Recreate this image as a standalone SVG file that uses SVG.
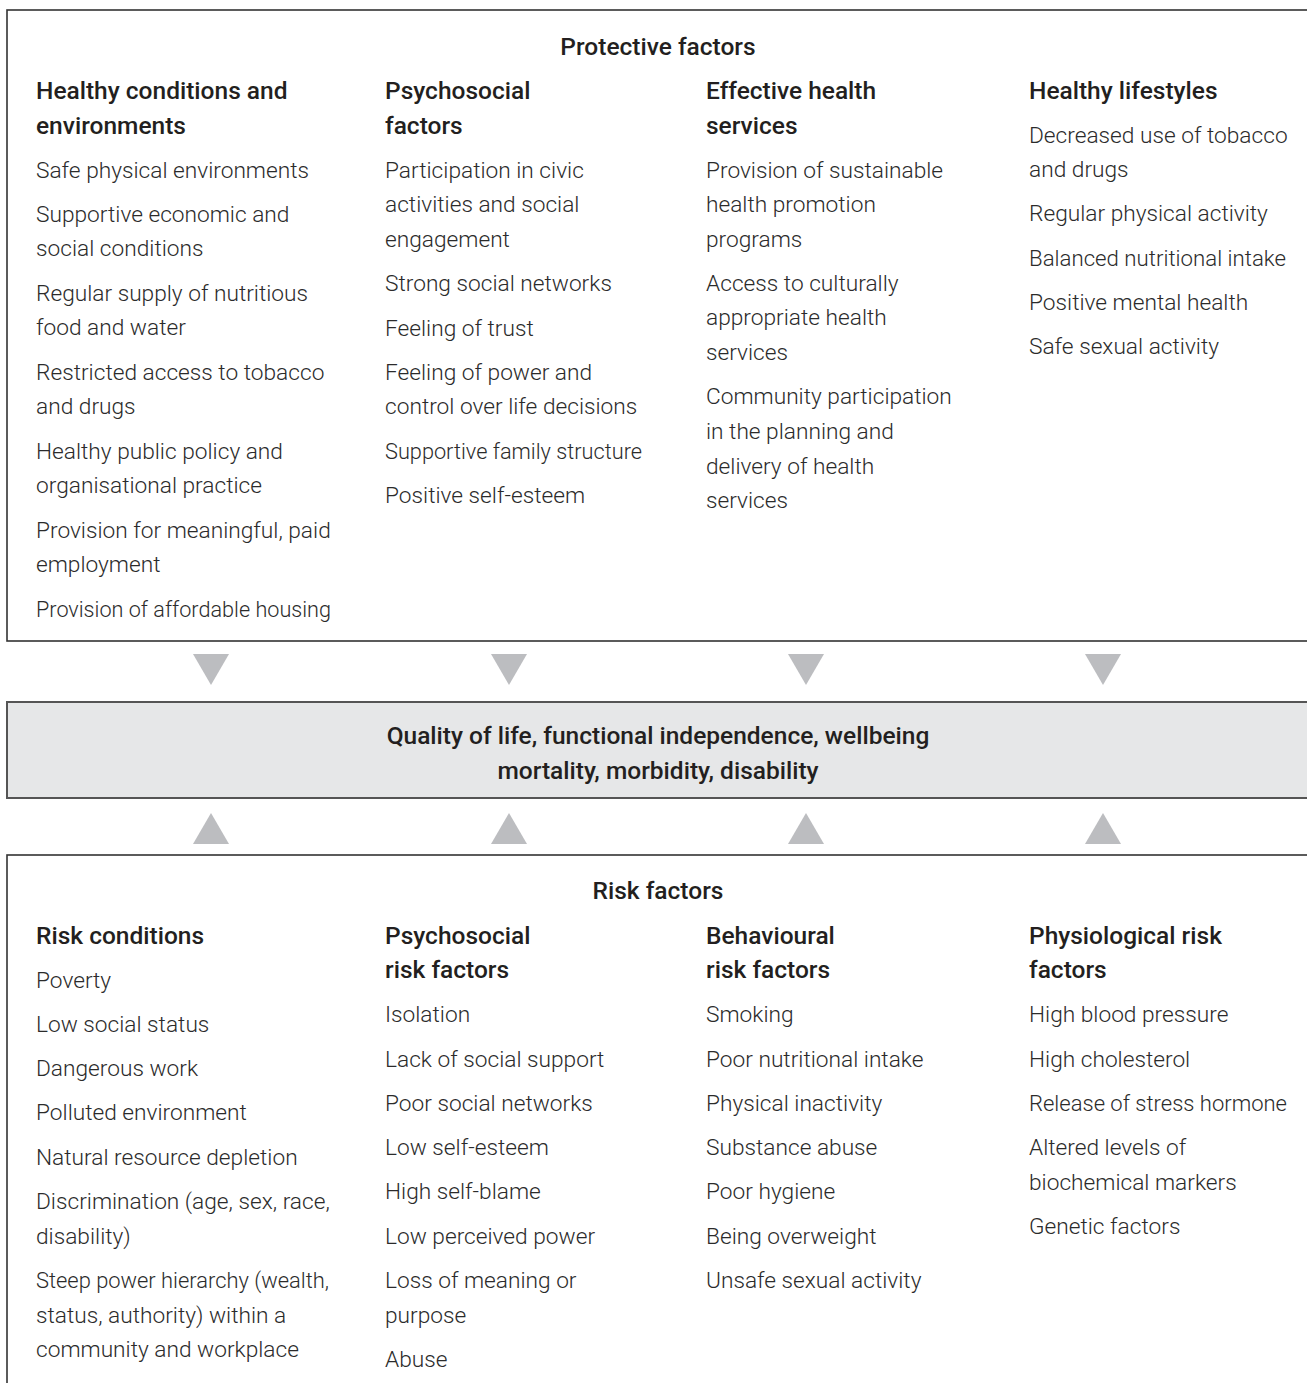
<svg xmlns="http://www.w3.org/2000/svg" width="1307" height="1383" viewBox="0 0 1307 1383">
<style>
.box{fill:#ffffff;stroke:#333333;stroke-width:1.6}
.mid{fill:#e6e7e8;stroke:#555555;stroke-width:2}
.h{font-family:Roboto,"Liberation Sans",sans-serif;font-weight:500;font-size:24.5px;fill:#231f20}
.t{font-family:Roboto,"Liberation Sans",sans-serif;font-weight:300;font-size:22.7px;fill:#2b2b2b}
.c{text-anchor:middle}
.tri{fill:#bcbdc0}
</style>
<rect width="1307" height="1383" fill="#ffffff"/>
<g id="protective">
<rect class="box" x="7" y="10" width="1320" height="631"/>
<text class="h c" x="658" y="55">Protective factors</text>
<g id="p-col1">
<text class="h" x="36" y="99">Healthy conditions and</text>
<text class="h" x="36" y="134">environments</text>
<text class="t" x="36" y="178">Safe physical environments</text>
<text class="t" x="36" y="222">Supportive economic and</text>
<text class="t" x="36" y="256">social conditions</text>
<text class="t" x="36" y="301">Regular supply of nutritious</text>
<text class="t" x="36" y="335">food and water</text>
<text class="t" x="36" y="380">Restricted access to tobacco</text>
<text class="t" x="36" y="414">and drugs</text>
<text class="t" x="36" y="459">Healthy public policy and</text>
<text class="t" x="36" y="493">organisational practice</text>
<text class="t" x="36" y="538">Provision for meaningful, paid</text>
<text class="t" x="36" y="572">employment</text>
<text class="t" x="36" y="617" textLength="295" lengthAdjust="spacingAndGlyphs">Provision of affordable housing</text>
</g>
<g id="p-col2">
<text class="h" x="385" y="99">Psychosocial</text>
<text class="h" x="385" y="134">factors</text>
<text class="t" x="385" y="178">Participation in civic</text>
<text class="t" x="385" y="212">activities and social</text>
<text class="t" x="385" y="247">engagement</text>
<text class="t" x="385" y="291">Strong social networks</text>
<text class="t" x="385" y="336">Feeling of trust</text>
<text class="t" x="385" y="380">Feeling of power and</text>
<text class="t" x="385" y="414">control over life decisions</text>
<text class="t" x="385" y="459" textLength="257" lengthAdjust="spacingAndGlyphs">Supportive family structure</text>
<text class="t" x="385" y="503">Positive self-esteem</text>
</g>
<g id="p-col3">
<text class="h" x="706" y="99">Effective health</text>
<text class="h" x="706" y="134">services</text>
<text class="t" x="706" y="178">Provision of sustainable</text>
<text class="t" x="706" y="212">health promotion</text>
<text class="t" x="706" y="247">programs</text>
<text class="t" x="706" y="291">Access to culturally</text>
<text class="t" x="706" y="325">appropriate health</text>
<text class="t" x="706" y="360">services</text>
<text class="t" x="706" y="404">Community participation</text>
<text class="t" x="706" y="439">in the planning and</text>
<text class="t" x="706" y="474">delivery of health</text>
<text class="t" x="706" y="508">services</text>
</g>
<g id="p-col4">
<text class="h" x="1029" y="99">Healthy lifestyles</text>
<text class="t" x="1029" y="143">Decreased use of tobacco</text>
<text class="t" x="1029" y="177">and drugs</text>
<text class="t" x="1029" y="221">Regular physical activity</text>
<text class="t" x="1029" y="266" textLength="257" lengthAdjust="spacingAndGlyphs">Balanced nutritional intake</text>
<text class="t" x="1029" y="310">Positive mental health</text>
<text class="t" x="1029" y="354">Safe sexual activity</text>
</g>
</g>
<g id="outcome">
<rect class="mid" x="7" y="702" width="1320" height="96"/>
<text class="h c" x="658" y="744">Quality of life, functional independence, wellbeing</text>
<text class="h c" x="658" y="779">mortality, morbidity, disability</text>
</g>
<g id="risk">
<rect class="box" x="7" y="855" width="1320" height="560"/>
<text class="h c" x="658" y="899">Risk factors</text>
<g id="r-col1">
<text class="h" x="36" y="944">Risk conditions</text>
<text class="t" x="36" y="988">Poverty</text>
<text class="t" x="36" y="1032">Low social status</text>
<text class="t" x="36" y="1076">Dangerous work</text>
<text class="t" x="36" y="1120">Polluted environment</text>
<text class="t" x="36" y="1165">Natural resource depletion</text>
<text class="t" x="36" y="1209">Discrimination (age, sex, race,</text>
<text class="t" x="36" y="1244">disability)</text>
<text class="t" x="36" y="1288" textLength="293" lengthAdjust="spacingAndGlyphs">Steep power hierarchy (wealth,</text>
<text class="t" x="36" y="1323">status, authority) within a</text>
<text class="t" x="36" y="1357">community and workplace</text>
</g>
<g id="r-col2">
<text class="h" x="385" y="944">Psychosocial</text>
<text class="h" x="385" y="978">risk factors</text>
<text class="t" x="385" y="1022">Isolation</text>
<text class="t" x="385" y="1067">Lack of social support</text>
<text class="t" x="385" y="1111">Poor social networks</text>
<text class="t" x="385" y="1155">Low self-esteem</text>
<text class="t" x="385" y="1199">High self-blame</text>
<text class="t" x="385" y="1244">Low perceived power</text>
<text class="t" x="385" y="1288">Loss of meaning or</text>
<text class="t" x="385" y="1323">purpose</text>
<text class="t" x="385" y="1367">Abuse</text>
</g>
<g id="r-col3">
<text class="h" x="706" y="944">Behavioural</text>
<text class="h" x="706" y="978">risk factors</text>
<text class="t" x="706" y="1022">Smoking</text>
<text class="t" x="706" y="1067">Poor nutritional intake</text>
<text class="t" x="706" y="1111">Physical inactivity</text>
<text class="t" x="706" y="1155">Substance abuse</text>
<text class="t" x="706" y="1199">Poor hygiene</text>
<text class="t" x="706" y="1244">Being overweight</text>
<text class="t" x="706" y="1288">Unsafe sexual activity</text>
</g>
<g id="r-col4">
<text class="h" x="1029" y="944">Physiological risk</text>
<text class="h" x="1029" y="978">factors</text>
<text class="t" x="1029" y="1022">High blood pressure</text>
<text class="t" x="1029" y="1067">High cholesterol</text>
<text class="t" x="1029" y="1111" textLength="258" lengthAdjust="spacingAndGlyphs">Release of stress hormone</text>
<text class="t" x="1029" y="1155">Altered levels of</text>
<text class="t" x="1029" y="1190">biochemical markers</text>
<text class="t" x="1029" y="1234">Genetic factors</text>
</g>
</g>
<g id="connectors">
<polygon class="tri" points="193,654 229,654 211,685"/>
<polygon class="tri" points="491,654 527,654 509,685"/>
<polygon class="tri" points="788,654 824,654 806,685"/>
<polygon class="tri" points="1085,654 1121,654 1103,685"/>
<polygon class="tri" points="193,844 229,844 211,813"/>
<polygon class="tri" points="491,844 527,844 509,813"/>
<polygon class="tri" points="788,844 824,844 806,813"/>
<polygon class="tri" points="1085,844 1121,844 1103,813"/>
</g>
</svg>
